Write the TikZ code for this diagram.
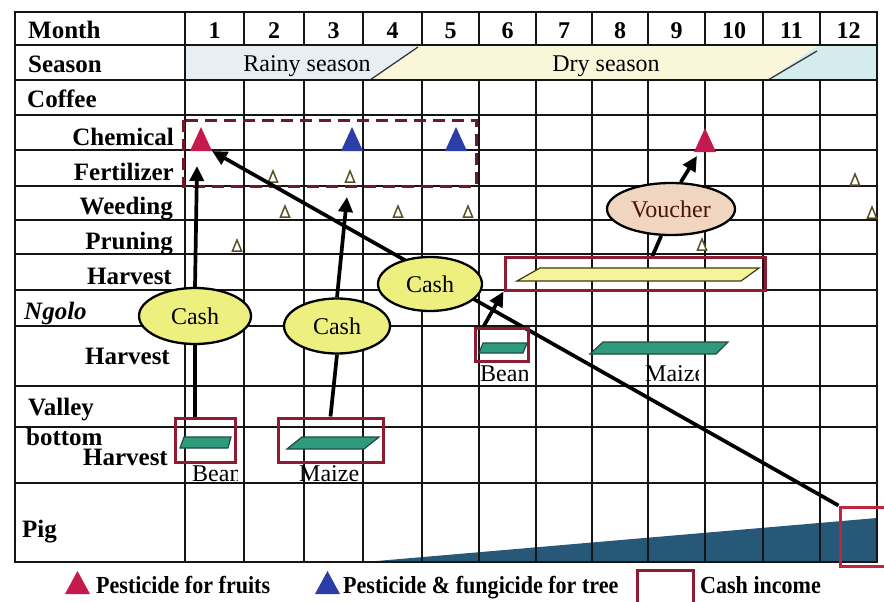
\documentclass[tikz,border=0pt]{standalone}
\usepackage{fontspec}
\setmainfont{Liberation Serif}
\newfontfamily\legendfont{Liberation Serif}[FakeStretch=0.9]
\usetikzlibrary{arrows.meta,shapes.geometric}
\pgfdeclarelayer{back}
\pgfdeclarelayer{links}
\pgfsetlayers{back,links,main}

\definecolor{gridc}{HTML}{151515}
\definecolor{rainfill}{HTML}{E7EFF2}
\definecolor{dryfill}{HTML}{FAF6DA}
\definecolor{rainfillB}{HTML}{D5ECEF}
\definecolor{dashred}{HTML}{701828}
\definecolor{fruitred}{HTML}{C41A4E}
\definecolor{treeblue}{HTML}{2B3EA8}
\definecolor{smalltric}{HTML}{5A5025}
\definecolor{cashyel}{HTML}{EDF07E}
\definecolor{vouchfill}{HTML}{F0D6C0}
\definecolor{vouchtext}{HTML}{4A120C}
\definecolor{incred}{HTML}{8F1B32}
\definecolor{pigred}{HTML}{C0243E}
\definecolor{cropgreen}{HTML}{2F9A7C}
\definecolor{cropedge}{HTML}{1E4D40}
\definecolor{coffeeyel}{HTML}{F7F398}
\definecolor{coffeeedge}{HTML}{3A3A10}
\definecolor{pigblue}{HTML}{285878}

\tikzset{
  gridline/.style={line width=1.7pt, draw=gridc},
  rowlab/.style={inner sep=0pt, font=\fontsize{25}{25}\selectfont\bfseries},
  monthlab/.style={inner sep=0pt, anchor=base, font=\fontsize{24}{24}\selectfont\bfseries},
  seasonlab/.style={inner sep=0pt, anchor=base, font=\fontsize{24}{24}\selectfont},
  croplab/.style={inner sep=0pt, anchor=base west, font=\fontsize{24}{24}\selectfont},
  legendlab/.style={inner sep=0pt, anchor=base west, font=\fontsize{24.5}{24.5}\legendfont\bfseries},
  bubble/.style={ellipse, draw=black, line width=2.3pt, fill=cashyel, inner sep=0pt,
    font=\fontsize{24}{24}\selectfont},
  vouchbubble/.style={bubble, fill=vouchfill, text=vouchtext},
  incomebox/.style={draw=incred, line width=3pt, inner sep=0pt},
  link/.style={line width=3.7pt, draw=black},
  linkarrow/.style={link, -{Triangle[length=15pt,width=14pt]}},
  cropbar/.style={fill=cropgreen, draw=cropedge, line width=1.2pt},
  bigtri/.pic={\path[pic actions] (-11,0) -- (11,0) -- (0,-24) -- cycle;},
  smalltri/.pic={\path[pic actions] (-4.5,0) -- (4.5,0) -- (0,-11) -- cycle;},
  smallmark/.style={fill=white, draw=smalltric, line width=1.5pt},
}

\begin{document}
\begin{tikzpicture}[x=1pt,y=-1pt]
\useasboundingbox (0,0) rectangle (884,602);

\begin{pgfonlayer}{back}
  \fill[white] (0,0) rectangle (884,602);
  % season band
  \fill[rainfill] (185,46) -- (418,46) -- (370,80) -- (185,80) -- cycle;
  \fill[dryfill] (418,46) -- (817,46) -- (768,80) -- (370,80) -- cycle;
  \fill[rainfillB] (817,46) -- (877,46) -- (877,80) -- (768,80) -- cycle;
  \draw[line width=1.3pt, gridc!85] (370,80) -- (418,47);
  \draw[line width=1.3pt, gridc!85] (768,80) -- (817,51);

  % pig herd growth
  \fill[pigblue] (365,562) -- (877,518) -- (877,562) -- cycle;

  % table grid
  \foreach \yy in {12,45,80,115,150,186,220,254,290,326,386,427,483,562}
    \draw[gridline] (15,\yy) -- (877,\yy);
  \foreach \xx in {244,304,363,422,479,536,592,648,705,763,820} {
    \draw[gridline] (\xx,12) -- (\xx,45);
    \draw[gridline] (\xx,80) -- (\xx,562);
  }
  \foreach \xx in {185} \draw[gridline] (\xx,12) -- (\xx,562);
  \draw[line width=2.2pt, gridc] (15,12) rectangle (877,562);

  % chemical/fertilizer period
  \draw[dashred, line width=3pt, dash pattern=on 12pt off 7pt] (183,120) rectangle (476,186);

  % crop harvest bars
  \path[fill=coffeeyel, draw=coffeeedge, line width=1.2pt] (517,281) -- (540,268) -- (759,268) -- (741,281) -- cycle;
  \path[cropbar] (479,353) -- (483,343) -- (527,343) -- (523,353) -- cycle;
  \path[cropbar] (590,354) -- (603,342) -- (728,342) -- (716,354) -- cycle;
  \path[cropbar] (180,448) -- (184,437) -- (231,437) -- (228,448) -- cycle;
  \path[cropbar] (287,449) -- (302,437) -- (379,437) -- (364,449) -- cycle;

  % coffee work marks
  \foreach \px/\py in {273/182,350/182,855/185,285/217,398/217,468/217,872/218,237/251,702/250}
    \pic[smallmark] at (\px,\py) {smalltri};

  % chemical applications
  \coordinate (triRedA) at (201,151);
  \coordinate (triBlueA) at (352,151);
  \coordinate (triBlueB) at (456,151);
  \coordinate (triRedB) at (705,152);
  \pic[fill=fruitred] at (triRedA) {bigtri};
  \pic[fill=treeblue] at (triBlueA) {bigtri};
  \pic[fill=treeblue] at (triBlueB) {bigtri};
  \pic[fill=fruitred] at (triRedB) {bigtri};
\end{pgfonlayer}

% row labels
\node[rowlab, anchor=base west] (lMonth) at (28,39) {Month};
\node[rowlab, anchor=base west] (lSeason) at (28,73) {Season};
\node[rowlab, anchor=base west] (lCoffee) at (27,107) {Coffee};
\node[rowlab, anchor=base east] (lChem) at (174,145) {Chemical};
\node[rowlab, anchor=base east] (lFert) at (174,180) {Fertilizer};
\node[rowlab, anchor=base east] (lWeed) at (173,214) {Weeding};
\node[rowlab, anchor=base east] (lPrun) at (173,249) {Pruning};
\node[rowlab, anchor=base east] (lHarvC) at (172,284) {Harvest};
\node[rowlab, anchor=base west] (lNgolo) at (24,319) {\itshape Ngolo};
\node[rowlab, anchor=base east] (lHarvN) at (170,364) {Harvest};
\node[rowlab, anchor=base west] (lValley) at (28,415) {Valley};
\node[rowlab, anchor=base west] (lBottom) at (26,445) {bottom};
\node[rowlab, anchor=base east] (lHarvV) at (168,465) {Harvest};
\node[rowlab, anchor=base west] (lPig) at (22,537) {Pig};

% months
\foreach \m/\xx in {1/214.5,2/274,3/333.5,4/392.5,5/450.5,6/507.5,7/564,8/620,9/676.5,10/734,11/791.5,12/848.5}
  \node[monthlab] (m\m) at (\xx,39) {\m};

% seasons
\node[seasonlab] (rainy) at (307,71) {Rainy season};
\node[seasonlab] (dry) at (606,71) {Dry season};

% crop names under the harvest bars
\begin{scope}
  \clip (188,455) rectangle (237,483);
  \node[croplab] (nVB) at (192,481) {Bean};
\end{scope}
\begin{scope}
  \clip (294,455) rectangle (359,483);
  \node[croplab] (nVM) at (299,481) {Maize};
\end{scope}
\begin{scope}
  \clip (476,362) rectangle (527,386);
  \node[croplab] (nNB) at (480,381) {Bean};
\end{scope}
\begin{scope}
  \clip (641,362) rectangle (698,386);
  \node[croplab] (nNM) at (645,381) {Maize};
\end{scope}

% cash income boxes
\node[incomebox, minimum width=60pt, minimum height=44pt] (boxVB) at (205,440) {};
\node[incomebox, minimum width=105pt, minimum height=44pt] (boxVM) at (330.5,440) {};
\node[incomebox, minimum width=53pt, minimum height=33pt] (boxNB) at (501.5,344.5) {};
\node[incomebox, minimum width=260pt, minimum height=33pt] (boxH) at (635,273.5) {};
\node[incomebox, draw=pigred, minimum width=50pt, minimum height=59pt] (boxP) at (865,536.5) {};

% cash and voucher bubbles
\node[bubble, minimum width=112pt, minimum height=56pt] (cashA) at (195,316) {Cash};
\node[bubble, minimum width=106pt, minimum height=55pt] (cashB) at (337,326) {Cash};
\node[bubble, minimum width=104pt, minimum height=54pt] (cashC) at (430,284) {Cash};
\node[vouchbubble, minimum width=128pt, minimum height=52pt] (voucher) at (671,209) {Voucher};

% arrow ends
\coordinate (tipA) at (197,166);
\coordinate (tipB) at (347,197);
\coordinate (tipC) at (212,151);
\coordinate (tipD) at (697,156);
\coordinate (hv) at (652,257);

\begin{pgfonlayer}{links}
  \draw[link] (boxVB.north -| cashA.south) -- (cashA.south);
  \draw[linkarrow] (cashA.north) -- (tipA);
  \draw[link] (boxVM.north) -- (cashB.south);
  \draw[linkarrow] (cashB.north) -- (tipB);
  \draw[linkarrow] (boxP.north west) -- (tipC);
  \draw[linkarrow] ([xshift=10pt]boxNB.north west) -- (boxH.south west);
  \draw[link] (hv) -- (voucher.-110);
  \draw[linkarrow] (voucher.70) -- (tipD);
\end{pgfonlayer}

% legend
\fill[fruitred] (65,594) -- (90,594) -- (77.5,571) -- cycle;
\node[legendlab] (legA) at (96,593) {Pesticide for fruits};
\fill[treeblue] (315,594) -- (340,594) -- (327.5,571) -- cycle;
\node[legendlab] (legB) at (343,593) {Pesticide \& fungicide for tree};
\draw[incred, line width=3pt] (637,570) rectangle (693,612);
\node[legendlab] (legC) at (700,593) {Cash income};
\end{tikzpicture}
\end{document}
